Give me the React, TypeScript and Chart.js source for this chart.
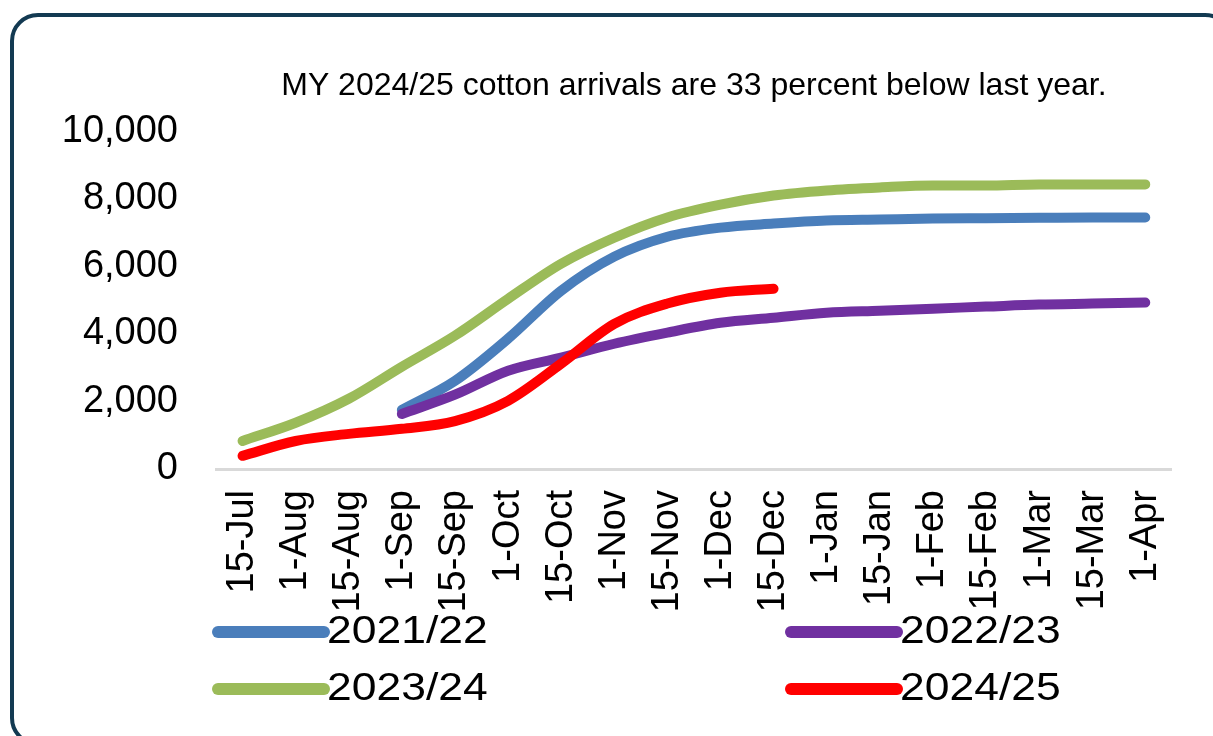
import React, { useEffect, useRef } from "react";
import { Chart, registerables } from "chart.js";

Chart.register(...registerables);

const categories = [
  "15-Jul", "1-Aug", "15-Aug", "1-Sep", "15-Sep", "1-Oct", "15-Oct", "1-Nov", "15-Nov",
  "1-Dec", "15-Dec", "1-Jan", "15-Jan", "1-Feb", "15-Feb", "1-Mar", "15-Mar", "1-Apr",
];

const seriesLabels = ["2021/22", "2022/23", "2023/24", "2024/25"];

const values2021 = [null, null, null, 1750, 2610, 3860, 5280, 6290, 6880, 7150, 7270, 7360, 7390, 7420, 7430, 7440, 7450, 7450];
const values2022 = [null, null, null, 1630, 2200, 2910, 3300, 3710, 4040, 4330, 4480, 4630, 4690, 4750, 4810, 4870, 4900, 4930];
const values2023 = [830, 1370, 2080, 3030, 3950, 5040, 6080, 6850, 7450, 7830, 8100, 8250, 8340, 8400, 8400, 8430, 8430, 8430];
const values2024 = [390, 830, 1040, 1190, 1420, 2020, 3120, 4300, 4900, 5220, 5340, null, null, null, null, null, null, null];

const yTicks = [0, 2000, 4000, 6000, 8000, 10000];

const titleText = "MY 2024/25 cotton arrivals are 33 percent below last year.";

const colors = ["#4a7ebb", "#7030a0", "#9bbb59", "#ff0000"];

const FONT = "'Liberation Sans', Arial, sans-serif";

const gridLegend = {
  id: "gridLegend",
  afterDraw(chart: any) {
    const ctx = chart.ctx;
    const cols = [212, 785];
    const rows = [632, 689];
    chart.data.datasets.forEach((ds: any, i: number) => {
      const x = cols[i % 2];
      const y = rows[Math.floor(i / 2)];
      ctx.save();
      ctx.strokeStyle = ds.borderColor;
      ctx.lineWidth = 12;
      ctx.lineCap = "round";
      ctx.beginPath();
      ctx.moveTo(x + 6, y);
      ctx.lineTo(x + 112, y);
      ctx.stroke();
      ctx.translate(x + 115, y + 1);
      ctx.scale(1.17, 1);
      ctx.fillStyle = "#000";
      ctx.font = `38px ${FONT}`;
      ctx.textBaseline = "middle";
      ctx.textAlign = "left";
      ctx.fillText(ds.label, 0, 0);
      ctx.restore();
    });
  },
};

export default function App() {
  const canvasRef = useRef<HTMLCanvasElement | null>(null);

  useEffect(() => {
    const canvas = canvasRef.current;
    if (!canvas) return;
    const allValues = [values2021, values2022, values2023, values2024];
    const orders = [4, 3, 2, 1];
    const chart = new Chart(canvas, {
      type: "line",
      data: {
        labels: categories,
        datasets: allValues.map((vals, i) => ({
          label: seriesLabels[i],
          data: vals,
          borderColor: colors[i],
          backgroundColor: colors[i],
          borderWidth: 10,
          borderCapStyle: "round",
          borderJoinStyle: "round",
          pointRadius: 0,
          pointHoverRadius: 0,
          cubicInterpolationMode: "monotone",
          spanGaps: false,
          fill: false,
          order: orders[i],
        })),
      },
      options: {
        animation: false,
        responsive: false,
        maintainAspectRatio: false,
        layout: { padding: { top: 40, left: 30, right: 39, bottom: 10 } },
        plugins: {
          legend: { display: false },
          tooltip: { enabled: false },
          title: {
            display: true,
            text: titleText,
            color: "#000",
            fullSize: false,
            font: { family: FONT, size: 32, weight: "normal" },
            padding: { top: 27, bottom: 26 },
          },
        },
        scales: {
          x: {
            type: "category",
            offset: true,
            grid: { display: false, drawTicks: false },
            border: { display: true, color: "#d9d9d9", width: 3 },
            ticks: {
              autoSkip: false,
              maxRotation: 90,
              minRotation: 90,
              padding: 21,
              color: "#000",
              font: { family: FONT, size: 38 },
            },
            afterFit: (scale: any) => {
              scale.height = 257;
            },
          },
          y: {
            min: 0,
            max: 10000,
            afterBuildTicks: (scale: any) => {
              scale.ticks = yTicks.map((v) => ({ value: v }));
            },
            grid: { display: false, drawTicks: false },
            border: { display: false },
            ticks: {
              padding: 38,
              color: "#000",
              font: { family: FONT, size: 38 },
              callback: (v: any) => Number(v).toLocaleString("en-US"),
            },
            afterFit: (scale: any) => {
              scale.width = 186;
            },
          },
        },
      },
      plugins: [gridLegend],
    } as any);
    return () => chart.destroy();
  }, []);

  return (
    <div
      style={{
        position: "fixed",
        top: 0,
        left: 0,
        width: 1213,
        height: 736,
        overflow: "hidden",
        background: "#fff",
      }}
    >
      <div
        style={{
          position: "absolute",
          left: 10,
          top: 13,
          width: 1215,
          height: 725,
          border: "4px solid #133a52",
          borderRadius: 28,
        }}
      />
      <canvas
        ref={canvasRef}
        width={1213}
        height={736}
        style={{ position: "absolute", left: 0, top: 0 }}
      />
    </div>
  );
}
